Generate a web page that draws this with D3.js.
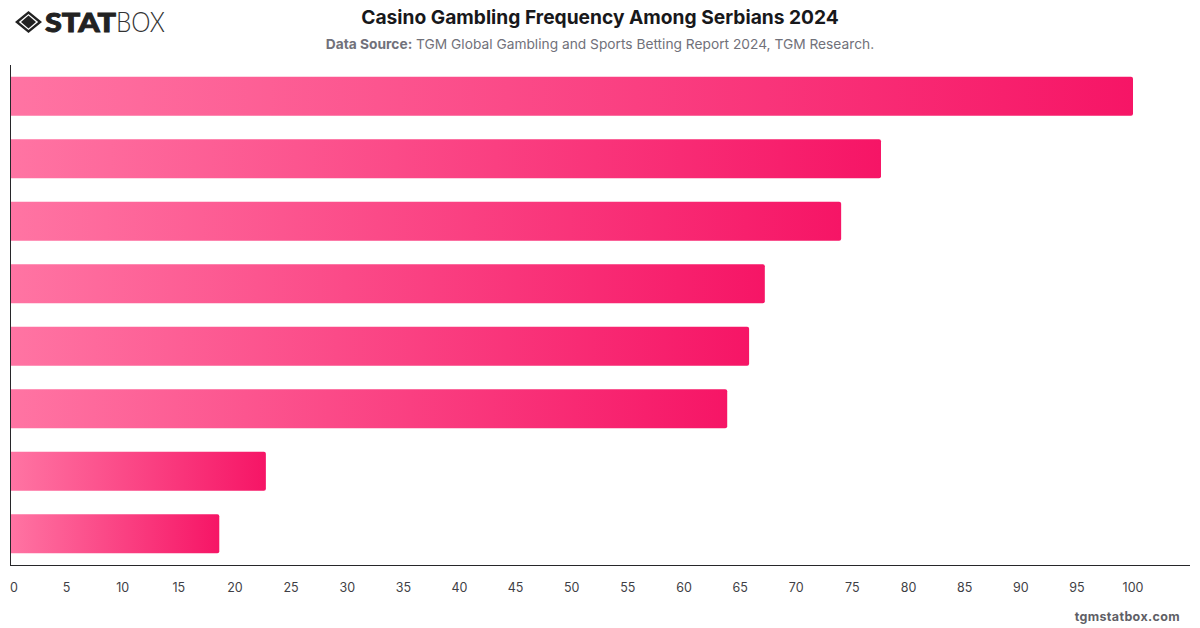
<!DOCTYPE html>
<html>
<head>
<meta charset="utf-8">
<script src="https://cdn.jsdelivr.net/npm/d3@7"></script>
<style>
html,body{margin:0;padding:0;background:#fff;}
svg{display:block;font-family:Inter,"Noto Sans",sans-serif;}
</style>
</head>
<body>
<svg id="chart" width="1200" height="628"></svg>
<script>
const titleText = "Casino Gambling Frequency Among Serbians 2024";
const sourceLabel = "Data Source:";
const sourceText = " TGM Global Gambling and Sports Betting Report 2024, TGM Research.";
const siteText = "tgmstatbox.com";
const barValues = [100, 77.55, 74, 67.2, 65.8, 63.85, 22.75, 18.6];
const tickValues = [0,5,10,15,20,25,30,35,40,45,50,55,60,65,70,75,80,85,90,95,100];

const svg = d3.select("#chart");
const x = d3.scaleLinear().domain([0,100]).range([10.5,1133]);
const y = d3.scaleBand().domain(d3.range(barValues.length)).range([65,565]).paddingInner(0.375).paddingOuter(0.1875);

// Horizontal gradient per bar, running across each bar's own box
const defs = svg.append("defs");
const grad = defs.append("linearGradient").attr("id","barFill").attr("x1",0).attr("x2",1).attr("y1",0).attr("y2",0);
grad.append("stop").attr("offset","0%").attr("stop-color","#ff74a3");
grad.append("stop").attr("offset","100%").attr("stop-color","#f61566");

// Bars: square at the baseline, rounded at the value end
function barPath(v, i){
  const r = 2, x0 = x(0), x1 = x(v), y0 = y(i), y1 = y0 + y.bandwidth();
  const p = d3.path();
  p.moveTo(x0,y0);
  p.lineTo(x1-r,y0);
  p.arcTo(x1,y0,x1,y0+r,r);
  p.lineTo(x1,y1-r);
  p.arcTo(x1,y1,x1-r,y1,r);
  p.lineTo(x0,y1);
  p.closePath();
  return p.toString();
}
svg.append("g").selectAll("path").data(barValues).join("path")
  .attr("d",barPath).attr("fill","url(#barFill)");

// Axis lines
svg.append("line").attr("x1",10.5).attr("x2",10.5).attr("y1",65).attr("y2",566).attr("stroke","#27272a").attr("stroke-width",1);
svg.append("line").attr("x1",10).attr("x2",1190).attr("y1",565.5).attr("y2",565.5).attr("stroke","#27272a").attr("stroke-width",1);

// Tick labels; the first one is nudged inside the plot edge
svg.append("g").selectAll("text").data(tickValues).join("text")
  .attr("x",d=> d===0 ? 14 : x(d))
  .attr("y",592).attr("text-anchor","middle")
  .attr("font-size",12.5).attr("fill","#3f3f46").text(d=>d);

// Heading
svg.append("text").attr("x",600).attr("y",23.5).attr("text-anchor","middle")
  .attr("font-size",19.2).attr("font-weight",700).attr("fill","#18181b").text(titleText);
const sub = svg.append("text").attr("x",600).attr("y",49).attr("text-anchor","middle")
  .attr("font-size",13.75).attr("fill","#71717a");
sub.append("tspan").attr("font-weight",700).text(sourceLabel);
sub.append("tspan").text(sourceText);

// Site credit
svg.append("text").attr("x",1180).attr("y",621).attr("text-anchor","end")
  .attr("font-size",12.5).attr("font-weight",700).attr("fill","#5f5f66").style("letter-spacing","0.35px").text(siteText);

// Brand mark: nested diamond icon and two-weight wordmark
const logo = svg.append("g");
logo.append("path").attr("fill","#222")
  .attr("fill-rule","evenodd")
  .attr("d","M28.5 11 L42 22 L28.5 33 L15 22 Z M28.5 14 L18.8 22 L28.5 30 L38.2 22 Z");
logo.append("path").attr("fill","#222").attr("d","M28.5 15.5 L36 22 L28.5 28.5 L21 22 Z");
logo.append("text").attr("x",45).attr("y",32).attr("font-family","Lato").attr("font-weight",900)
  .attr("font-size",27).attr("fill","#222").attr("stroke","#222").attr("stroke-width",0.9)
  .attr("textLength",71).attr("lengthAdjust","spacingAndGlyphs").text("STAT");
logo.append("text").attr("x",116).attr("y",32).attr("font-family","Lato").attr("font-weight",300)
  .attr("font-size",27).attr("fill","#333").attr("textLength",49).attr("lengthAdjust","spacingAndGlyphs").text("BOX");
</script>
</body>
</html>
